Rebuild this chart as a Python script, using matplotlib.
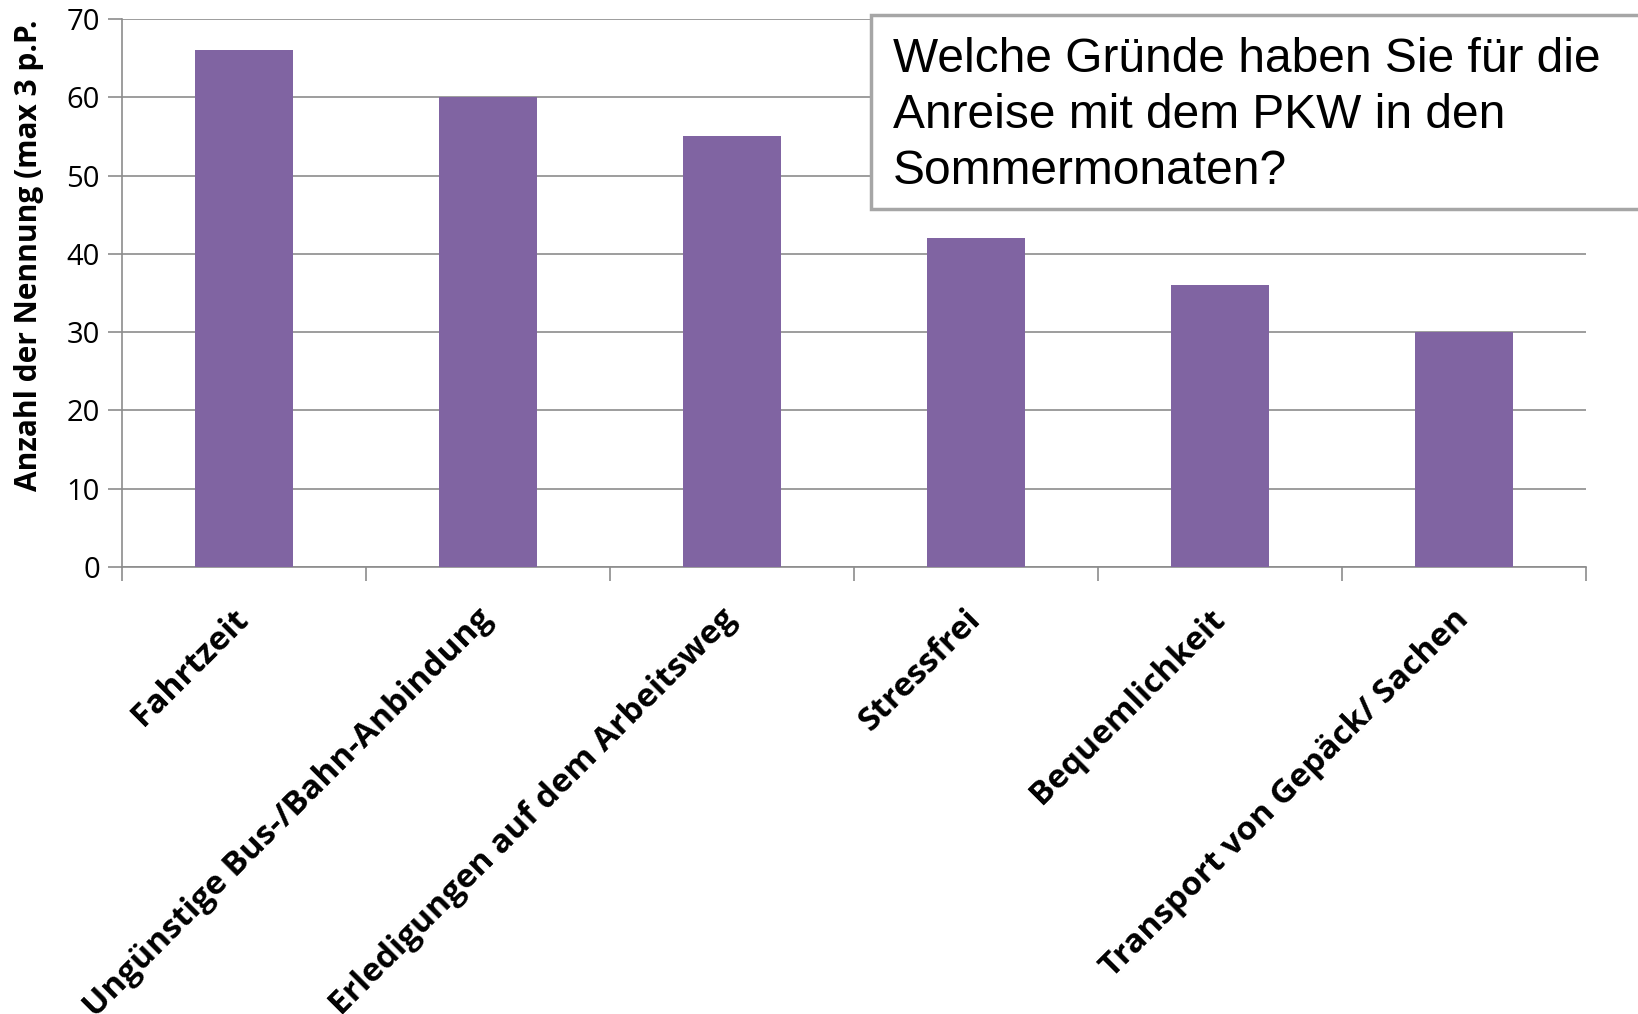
import matplotlib.pyplot as plt
from matplotlib.patches import Rectangle

categories = ['Fahrtzeit', 'Ungünstige Bus-/Bahn-Anbindung', 'Erledigungen auf dem Arbeitsweg',
              'Stressfrei', 'Bequemlichkeit', 'Transport von Gepäck/ Sachen']
counts = [66, 60, 55, 42, 36, 30]
y_ticks = [0, 10, 20, 30, 40, 50, 60, 70]

bar_color = '#8064A2'
grid_color = '#8C8C8C'

fig = plt.figure(figsize=(16.38, 10.14), dpi=100)
ax = fig.add_axes([0.0745, 0.4408, 0.8937, 0.5404])

x = range(len(categories))
ax.bar(x, counts, width=0.4, color=bar_color, zorder=3)

ax.set_xlim(-0.5, len(categories) - 0.5)
ax.set_ylim(0, 70)
ax.set_yticks(y_ticks)
ax.set_yticklabels([str(v) for v in y_ticks], fontsize=21, fontfamily='Open Sans')
ax.yaxis.grid(True, color=grid_color, linewidth=1.2, zorder=0)

# category boundaries carry the tick marks, labels sit at the bar centers
ax.set_xticks([i - 0.5 for i in range(len(categories) + 1)])
ax.set_xticklabels([])
ax.tick_params(axis='x', direction='out', length=10, color=grid_color, width=1.2)
ax.tick_params(axis='y', direction='out', length=10, color=grid_color, width=1.2, pad=6)
for i, name in enumerate(categories):
    ax.annotate(name, xy=(i, 0), xycoords=('data', 'axes fraction'),
                xytext=(0, -34), textcoords='offset points',
                rotation=45, rotation_mode='anchor', ha='right', va='center',
                fontsize=24, fontweight='bold', fontfamily='Open Sans')

for side in ['top', 'right']:
    ax.spines[side].set_visible(False)
for side in ['left', 'bottom']:
    ax.spines[side].set_color(grid_color)
    ax.spines[side].set_linewidth(1.2)

fig.text(0.018, 0.516, 'Anzahl der Nennung (max 3 p.P.', rotation=90,
         ha='center', va='bottom', fontsize=21.5, fontweight='bold', fontfamily='Open Sans')

# question box in the upper right corner, running off the right edge
box = Rectangle((0.532, 0.794), 0.6, 0.191, transform=fig.transFigure,
                facecolor='white', edgecolor='#A6A6A6', linewidth=2.5, zorder=5)
fig.add_artist(box)
fig.text(0.545, 0.886, 'Welche Gründe haben Sie für die\nAnreise mit dem PKW in den\nSommermonaten?',
         ha='left', va='center', fontsize=34.5, fontfamily='Liberation Sans',
         linespacing=1.32, zorder=6)

fig.savefig('out.png', dpi=100)
